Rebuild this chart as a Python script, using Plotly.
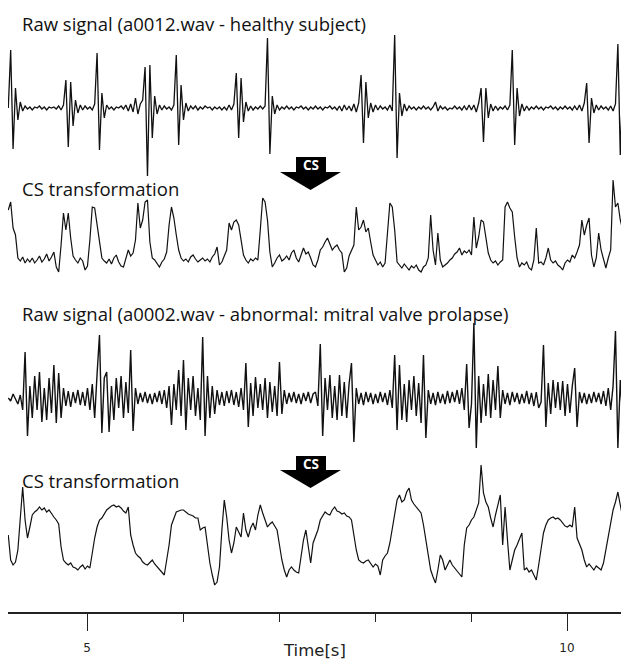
import plotly.graph_objects as go

# ---------------- data ----------------
T0 = 4.18      # time of first sample [s]
DT = 0.025     # sample spacing [s]

# raw PCG, healthy subject (amplitude, arbitrary units, 0 = baseline)
raw_healthy = [
    0, 58, -41, 20, -12, 6, -3, 2, -1, 1,
    -2, 1, 0, 2, -1, 1, -2, 1, 0, 1,
    -1, 2, -2, 3, 28, -39, 26, -18, 8, -5,
    3, -2, 2, -1, 1, -2, 4, 55, -42, 15,
    -10, 3, -1, 1, -2, 1, 0, 2, -1, 3,
    -3, 4, -4, 10, -6, 4, 8, 41, -69, 43,
    -30, 12, -6, 3, -2, 2, -1, 1, -2, 3,
    53, -37, 23, -12, 5, -3, 2, -1, 2, -2,
    1, -1, 2, 0, 1, -2, 1, -1, 1, -2,
    1, -2, 3, -2, 4, 35, -30, 30, -14, 6,
    -3, 2, -2, 1, -1, 2, -1, 2, 70, -46,
    12, -6, 3, -2, 1, -1, 2, -1, 1, -2,
    1, 0, 2, -1, 1, -2, 1, -1, 2, -1,
    1, -2, 1, 0, 2, -1, 1, -2, 2, -3,
    3, -2, 2, -3, 4, -4, 5, 33, -35, 26,
    -10, 5, -4, 3, -2, 2, -1, 1, -2, 3,
    -3, 73, -50, 15, -8, 4, -3, 2, -1, 1,
    -2, 1, -1, 2, -1, 1, -2, 1, 6, -3,
    2, -1, 1, -2, 0, -1, 2, -1, 1, -2,
    2, -2, 3, -2, 3, -4, 5, 20, -34, 20,
    -10, 4, -3, 2, -2, 1, -1, 2, -2, 3,
    58, -37, 20, -8, 4, -3, 2, -2, 1, -1,
    2, -1, 1, -2, 1, 0, 2, -1, 1, -2,
    1, -1, 2, -1, 1, -2, 2, -2, 3, -3,
    5, 25, -35, 10, -5, 3, -2, 2, -1, 1,
    -2, 2, -3, 4, 64, -47, 24, -10, 3,
]

# CS transformation, healthy subject
cs_healthy = [
    70, 78, 52, 45, 22, 19, 23, 17, 21, 18,
    22, 17, 20, 24, 18, 21, 26, 19, 23, 28,
    13, 8, 35, 67, 50, 67, 42, 24, 20, 17,
    22, 19, 10, 14, 40, 73, 72, 55, 34, 22,
    19, 17, 21, 16, 22, 25, 18, 14, 13, 22,
    30, 24, 27, 40, 77, 52, 60, 78, 80, 38,
    22, 20, 17, 13, 18, 21, 28, 55, 73, 62,
    45, 30, 22, 19, 21, 18, 23, 25, 21, 18,
    20, 22, 19, 21, 18, 23, 26, 33, 15, 18,
    24, 30, 57, 50, 58, 60, 55, 40, 25, 20,
    17, 21, 19, 22, 20, 50, 82, 78, 60, 28,
    13, 17, 22, 25, 19, 21, 24, 20, 27, 30,
    22, 18, 24, 32, 26, 28, 22, 15, 13, 20,
    30, 33, 38, 42, 36, 30, 33, 35, 30, 27,
    8, 12, 24, 30, 35, 73, 50, 53, 60, 48,
    52, 38, 25, 20, 15, 18, 13, 17, 50, 77,
    73, 50, 18, 15, 12, 16, 13, 10, 14, 12,
    15, 10, 8, 13, 15, 22, 65, 30, 15, 47,
    20, 13, 15, 17, 20, 22, 26, 28, 32, 25,
    29, 27, 30, 25, 63, 32, 43, 60, 58, 40,
    27, 20, 17, 19, 15, 18, 20, 73, 78, 72,
    68, 43, 22, 13, 17, 15, 18, 12, 10, 20,
    52, 17, 18, 15, 22, 32, 20, 17, 19, 15,
    13, 10, 17, 20, 18, 25, 22, 28, 35, 60,
    45, 55, 62, 25, 13, 22, 47, 30, 20, 12,
    22, 30, 100, 73, 77, 60, 50, 23, 30,
]

# raw PCG, abnormal subject (mitral valve prolapse)
raw_abnormal = [
    0, -3, 4, -2, -6, 3, -12, 46, -38, 12,
    -20, 22, -12, 26, -24, 10, -22, 20, -15, 33,
    -25, 25, -20, 10, -8, 7, -9, 6, -5, 8,
    -7, 6, -8, 10, -12, 14, -20, 24, 63, -35,
    20, 26, -34, 12, -22, 20, -10, 22, -20, 16,
    -15, 48, -33, 10, -6, 5, -4, 6, -5, 4,
    -6, 5, -4, 7, -6, 8, -10, 12, -27, 14,
    -12, 28, -18, 38, -32, 20, -12, 22, -18, 10,
    -22, 61, -38, 22, -20, 12, -16, 8, -7, 6,
    -8, 7, -5, 8, -7, 6, -9, 10, -12, 35,
    -29, 15, -18, 21, -10, 14, -12, 20, -20, 16,
    -14, 12, -18, 36, -16, 8, -6, 5, -4, 6,
    -5, 4, -6, 5, -3, 6, -5, 4, 6, -8,
    54, -38, 20, -12, 23, -20, 12, -22, 23, -18,
    16, -20, 14, 35, -44, 10, -6, 5, -7, 6,
    -4, 5, -6, 4, -5, 6, -4, 5, -7, 8,
    -10, 43, -32, 33, -22, 14, -24, 18, -12, 22,
    -18, 15, -25, 43, -40, 8, -6, 5, -7, 6,
    -5, 4, -6, 7, -5, 6, -4, 8, -6, 10,
    -12, 34, -30, -6, 75, -50, 22, -25, 14, -18,
    24, -20, 18, -12, 32, -20, 8, -6, 5, -7,
    6, -4, 5, -6, 4, -5, 7, -6, 5, -8,
    6, -10, -4, 53, -29, 15, -16, 18, -10, 16,
    -12, 17, -18, 14, -15, 12, 30, -29, 6, -5,
    5, -6, 4, -5, 6, -4, 5, -6, 7, -8,
    10, -12, 12, 67, -50, 18, -20, 28, -22,
]

# CS transformation, abnormal subject
cs_abnormal = [
    65, 40, 35, 38, 50, 83, 113, 80, 62, 73,
    85, 88, 90, 93, 90, 92, 88, 90, 86, 83,
    80, 76, 53, 40, 37, 35, 37, 33, 32, 30,
    33, 35, 31, 34, 32, 48, 62, 73, 80, 82,
    86, 90, 92, 94, 95, 93, 94, 92, 89, 87,
    93, 65, 55, 47, 44, 42, 38, 36, 35, 38,
    40, 36, 33, 30, 28, 25, 40, 55, 75, 82,
    88, 89, 90, 90, 88, 86, 85, 84, 82, 82,
    70, 72, 73, 55, 37, 25, 15, 18, 33, 70,
    100, 83, 60, 47, 57, 73, 68, 63, 87, 70,
    63, 72, 77, 70, 85, 95, 87, 80, 73, 76,
    78, 74, 70, 55, 40, 30, 23, 30, 33, 30,
    28, 27, 43, 60, 70, 53, 37, 57, 63, 70,
    80, 84, 88, 86, 85, 90, 93, 89, 88, 86,
    87, 84, 83, 80, 65, 50, 40, 38, 37, 39,
    40, 36, 33, 36, 34, 25, 40, 44, 47, 57,
    70, 83, 100, 105, 98, 100, 108, 112, 100, 96,
    93, 90, 87, 75, 60, 43, 30, 23, 17, 30,
    45, 40, 30, 35, 40, 35, 32, 30, 27, 23,
    55, 72, 75, 80, 83, 90, 97, 135, 107, 98,
    93, 82, 73, 85, 95, 105, 55, 93, 60, 30,
    40, 50, 55, 62, 67, 30, 32, 28, 30, 25,
    20, 35, 50, 67, 75, 80, 82, 83, 81, 82,
    80, 77, 74, 73, 75, 73, 93, 62, 55, 50,
    40, 33, 36, 33, 30, 34, 32, 30, 37, 50,
    65, 80, 90, 98, 108, 95, 83, 80, 83,
]

panel_titles = [
    "Raw signal (a0012.wav - healthy subject)",
    "CS transformation",
    "Raw signal (a0002.wav - abnormal: mitral valve prolapse)",
    "CS transformation",
]
arrow_label = "CS"
x_major_ticks = [5, 10]
x_major_text = ["5", "10"]
x_minor_ticks = [6, 7, 8, 9]
x_title = "Time[s]"
x_range = [4.1771, 10.6458]

# ---------------- figure geometry ----------------
# the page body keeps an 8 px margin, so the figure itself starts at (8, 8)
OFF = 8
W, H = 629 - OFF, 661 - OFF
ML, MR, MT, MB = 0, 0, 0, 48
PW, PH = W - ML - MR, H - MT - MB


def px(x):  # screen pixel column -> paper x
    return (x - OFF - ML) / PW


def py(y):  # screen pixel row -> paper y
    return (MT + PH - (y - OFF)) / PH


def times(vals):
    return [T0 + i * DT for i in range(len(vals))]


fig = go.Figure()
series = [raw_healthy, cs_healthy, raw_abnormal, cs_abnormal]
yaxes = ["y", "y2", "y3", "y4"]
widths = [1.3, 1.2, 1.4, 1.2]
for vals, ya, lw in zip(series, yaxes, widths):
    fig.add_trace(go.Scatter(x=times(vals), y=vals, mode="lines",
                             line=dict(color="#111111", width=lw),
                             yaxis=ya, xaxis="x", showlegend=False,
                             hoverinfo="skip"))

hidden = dict(visible=False, anchor="x", fixedrange=True)
fig.update_layout(
    width=W, height=H,
    margin=dict(l=ML, r=MR, t=MT, b=MB, pad=0, autoexpand=False),
    paper_bgcolor="white", plot_bgcolor="white",
    showlegend=False,
    xaxis=dict(
        range=x_range, anchor="free", position=0,
        showline=True, linecolor="#222222", linewidth=1.5,
        showgrid=False, zeroline=False,
        ticks="outside", tickvals=x_major_ticks, ticktext=x_major_text,
        ticklen=17, tickwidth=1.3, tickcolor="#222222", ticklabelstandoff=7,
        tickfont=dict(family="DejaVu Sans", size=12, color="#222222"),
        minor=dict(ticks="outside", tickvals=x_minor_ticks, ticklen=8,
                   tickwidth=1.3, tickcolor="#222222", showgrid=False),
    ),
    yaxis=dict(domain=[py(180), py(28)], range=[-72, 80], **hidden),
    yaxis2=dict(domain=[py(282), py(176)], range=[-2, 104], **hidden),
    yaxis3=dict(domain=[py(455), py(318)], range=[-57, 80], **hidden),
    yaxis4=dict(domain=[py(600), py(455)], range=[0, 145], **hidden),
)

# panel titles
title_rows = [24, 188.5, 313, 480]
for txt, row in zip(panel_titles, title_rows):
    fig.add_annotation(text=txt, xref="paper", yref="paper",
                       x=px(20), y=py(row), xanchor="left", yanchor="middle",
                       showarrow=False,
                       font=dict(family="Open Sans", size=18.5, color="#111111"))

# x-axis title
fig.add_annotation(text=x_title, xref="paper", yref="paper",
                   x=px(314), y=py(650), xanchor="center", yanchor="middle",
                   showarrow=False,
                   font=dict(family="DejaVu Sans", size=16.5, color="#222222"))

# "CS" block arrows
for top, base, tip in [(157, 172, 190), (456, 470, 488)]:
    pts = [(296, top), (326, top), (326, base), (341, base), (310.5, tip),
           (280, base), (296, base)]
    path = "M " + " L ".join(f"{px(a):.5f},{py(b):.5f}" for a, b in pts) + " Z"
    fig.add_shape(type="path", path=path, xref="paper", yref="paper",
                  fillcolor="black", line=dict(width=0))
    fig.add_annotation(text=f"<b>{arrow_label}</b>", xref="paper", yref="paper",
                       x=px(311), y=py((top + base) / 2 + 0.5), xanchor="center",
                       yanchor="middle", showarrow=False,
                       font=dict(family="Open Sans", size=13.5, color="white"))

fig.write_html("out.html")
